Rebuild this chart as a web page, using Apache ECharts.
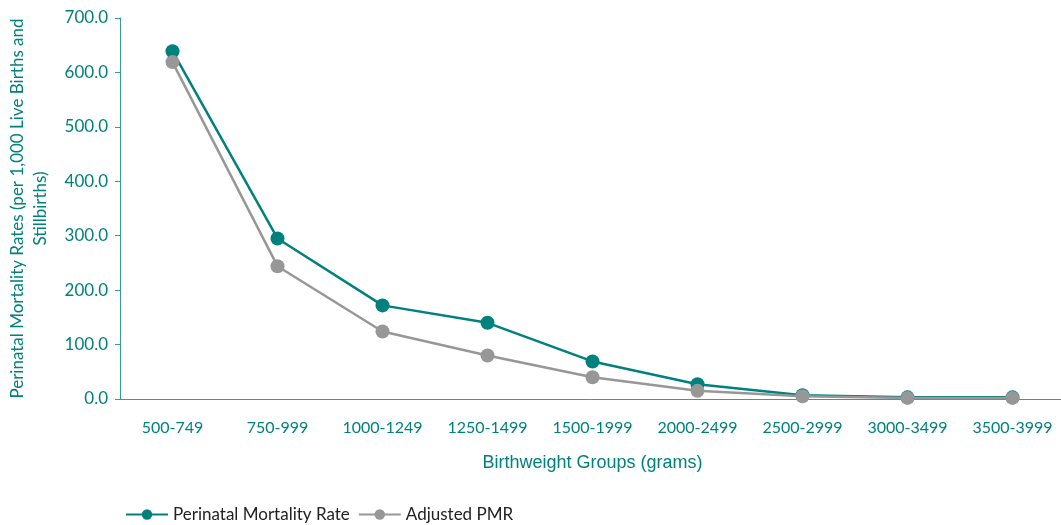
<!DOCTYPE html>
<html>
<head>
<meta charset="utf-8">
<script src="https://cdn.jsdelivr.net/npm/echarts@6/dist/echarts.min.js"></script>
<style>
  html, body { margin: 0; padding: 0; background: #fff; }
  #chart { width: 1061px; height: 525px; }
</style>
</head>
<body>
<div id="chart"></div>
<script>
const categories = ['500-749', '750-999', '1000-1249', '1250-1499', '1500-1999', '2000-2499', '2500-2999', '3000-3499', '3500-3999']
const pmr = [639, 295, 172, 140, 69, 27, 7, 3, 3]
const adjustedPmr = [619, 244, 124, 80, 40, 15, 5, 2, 2]

const teal = '#00817E'
const grey = '#979797'
const labelFont = 'Lato, "Open Sans", sans-serif'

const chart = echarts.init(document.getElementById('chart'))

chart.setOption({
  backgroundColor: '#fff',
  animation: false,
  grid: { left: 120, right: -4, top: 18, bottom: 126, containLabel: false, outerBoundsMode: 'none' },
  legend: {
    left: 120,
    top: 501,
    itemWidth: 42,
    itemHeight: 13,
    itemGap: 8,
    textStyle: { color: '#222', fontSize: 17, fontFamily: labelFont },
    data: ['Perinatal Mortality Rate', 'Adjusted PMR']
  },
  xAxis: {
    type: 'category',
    data: categories,
    boundaryGap: true,
    name: 'Birthweight Groups (grams)',
    nameLocation: 'middle',
    nameGap: 55,
    nameTextStyle: { color: teal, fontSize: 18, fontFamily: '"Liberation Sans", Arial, sans-serif' },
    axisLine: { lineStyle: { color: '#3a9a97', width: 1 } },
    axisTick: { lineStyle: { color: '#3a9a97' }, length: 5 },
    axisLabel: { color: teal, fontSize: 16, fontFamily: labelFont, margin: 21 }
  },
  yAxis: {
    type: 'value',
    min: 0,
    max: 700,
    interval: 100,
    name: 'Perinatal Mortality Rates (per 1,000 Live Births and\nStillbirths)',
    nameLocation: 'middle',
    nameGap: 68,
    nameRotate: 90,
    nameTextStyle: { color: teal, fontSize: 17, fontFamily: labelFont, lineHeight: 23 },
    axisLine: { show: true, lineStyle: { color: '#3a9a97', width: 1 } },
    axisTick: { show: true, inside: false, length: 5, lineStyle: { color: '#3a9a97' } },
    splitLine: { show: false },
    axisLabel: {
      color: teal,
      fontSize: 17,
      fontFamily: labelFont,
      margin: 12,
      formatter: v => v.toFixed(1)
    }
  },
  series: [
    {
      name: 'Perinatal Mortality Rate',
      type: 'line',
      data: pmr,
      symbol: 'circle',
      symbolSize: 14,
      lineStyle: { color: teal, width: 2.5 },
      itemStyle: { color: teal },
      z: 2
    },
    {
      name: 'Adjusted PMR',
      type: 'line',
      data: adjustedPmr,
      symbol: 'circle',
      symbolSize: 14,
      lineStyle: { color: grey, width: 2.5 },
      itemStyle: { color: grey },
      z: 3
    }
  ]
})

window.addEventListener('resize', () => chart.resize())
</script>
</body>
</html>
